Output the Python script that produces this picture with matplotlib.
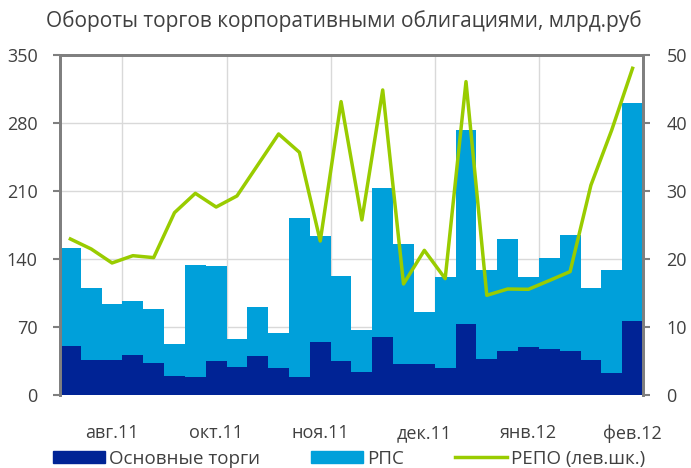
import matplotlib
matplotlib.use("Agg")
import matplotlib.pyplot as plt
from matplotlib.patches import Patch
from matplotlib.lines import Line2D

plt.rcParams['font.family'] = ['Open Sans', 'DejaVu Sans']

# data: bars on right scale, REPO line on left scale
osnovnye = [7.2, 5.2, 5.2, 5.9, 4.75, 2.85, 2.6, 5.05, 4.1, 5.8, 3.9, 2.7, 7.85, 5.0,
            3.4, 8.6, 4.55, 4.5, 4.0, 10.4, 5.3, 6.4, 7.1, 6.7, 6.4, 5.2, 3.2, 10.9]
total = [21.6, 15.7, 13.4, 13.8, 12.6, 7.5, 19.1, 19.0, 8.3, 13.0, 9.1, 26.0, 23.4, 17.5,
         9.5, 30.4, 22.2, 12.2, 17.4, 38.9, 18.4, 22.9, 17.4, 20.2, 23.6, 15.7, 18.4, 43.0]
rps = [t - o for t, o in zip(total, osnovnye)]
repo = [160.6, 150.3, 135.9, 143.4, 141.4, 187.7, 207.6, 193.5, 204.9, 236.8, 268.7, 249.8,
        158.5, 302.0, 180.2, 314.0, 114.3, 148.9, 119.8, 322.6, 102.6, 109.1, 108.8, 117.8,
        127.0, 216.0, 272.8, 336.3]
tick_pos = [2, 7, 12, 17, 22, 27]
tick_labels = ['авг.11', 'окт.11', 'ноя.11', 'дек.11', 'янв.12', 'фев.12']

c_dark = '#002395'
c_light = '#00A0DA'
c_green = '#99CC00'
c_text = '#404040'
c_spine = '#7f7f7f'

x = list(range(len(total)))

fig = plt.figure(figsize=(6.91, 4.68), dpi=100)
ax = fig.add_axes([0.0868, 0.156, 0.8437, 0.7265])
ax.bar(x, osnovnye, width=1.0, color=c_dark, zorder=2)
ax.bar(x, rps, bottom=osnovnye, width=1.0, color=c_light, zorder=2)
ax.set_xlim(-0.5, len(total) - 0.5)
ax.set_ylim(0, 50)
ax.set_yticks(range(0, 51, 10))
ax.grid(axis='y', color='#d9d9d9', linewidth=1, zorder=0)
for g in [2.5, 7.5, 12.5, 17.5, 22.5]:
    ax.axvline(g, color='#d9d9d9', linewidth=1, zorder=0)
ax.set_xticks(tick_pos)
ax.set_xticklabels(tick_labels)
ax.tick_params(axis='x', length=0, pad=21, labelsize=13, colors=c_text)

ax2 = ax.twinx()
ax2.plot(x, repo, color=c_green, linewidth=2.5, zorder=3)
ax2.set_ylim(0, 350)
ax2.set_yticks(range(0, 351, 70))

# swap sides: bars read on the right, REPO on the left
ax.yaxis.tick_right()
ax2.yaxis.tick_left()
ax.tick_params(axis='y', pad=12)
ax2.tick_params(axis='y', pad=11)
for a in (ax, ax2):
    a.tick_params(axis='y', length=5, width=1.5, color=c_spine, labelsize=13,
                  labelcolor=c_text)
    a.spines['bottom'].set_visible(False)
    for s in ('left', 'right', 'top'):
        a.spines[s].set_color(c_spine)
        a.spines[s].set_linewidth(2)

fig.text(0.497, 0.955, 'Обороты торгов корпоративными облигациями, млрд.руб',
         ha='center', va='center', fontsize=15, color=c_text)

handles = [Patch(color=c_dark), Patch(color=c_light), Line2D([], [], color=c_green, linewidth=2.5)]
fig.legend(handles, ['Основные торги', 'РПС', 'РЕПО (лев.шк.)'], loc='center',
           bbox_to_anchor=(0.505, 0.02), ncol=3, frameon=False, fontsize=13.5,
           handlelength=2.8, handleheight=0.6, handletextpad=0.2, columnspacing=2.7,
           labelcolor=c_text, borderpad=0)

fig.savefig('out.png', dpi=100)
